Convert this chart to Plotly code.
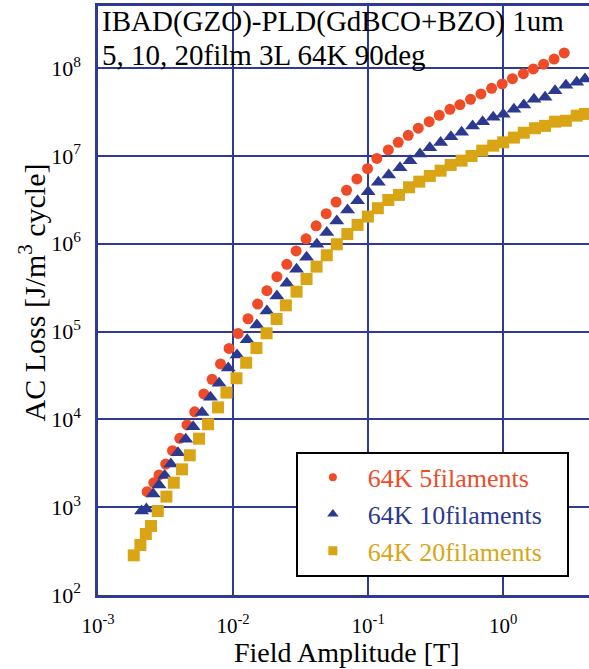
import plotly.graph_objects as go

# ---- data ----
x_5fil = [2.31e-3, 2.59e-3, 2.83e-3, 3.17e-3, 3.56e-3, 4.03e-3, 4.56e-3, 5.20e-3, 6.07e-3, 6.99e-3,
          8.07e-3, 9.34e-3, 1.09e-2, 1.29e-2, 1.52e-2, 1.78e-2, 2.11e-2, 2.50e-2, 2.93e-2, 3.47e-2,
          4.12e-2, 4.89e-2, 5.79e-2, 6.92e-2, 8.25e-2, 9.90e-2, 0.116, 0.141, 0.167, 0.198,
          0.235, 0.283, 0.336, 0.403, 0.478, 0.573, 0.684, 0.821, 0.983, 1.17,
          1.41, 1.67, 1.99, 2.38, 2.83]
y_5fil = [1.50e3, 1.90e3, 2.33e3, 3.10e3, 4.40e3, 6.09e3, 8.64e3, 1.22e4, 1.95e4, 2.86e4,
          4.28e4, 6.42e4, 9.52e4, 1.40e5, 2.06e5, 2.92e5, 4.22e5, 5.84e5, 8.28e5, 1.14e6,
          1.60e6, 2.20e6, 2.99e6, 4.07e6, 5.47e6, 7.17e6, 9.37e6, 1.17e7, 1.43e7, 1.72e7,
          2.07e7, 2.46e7, 2.91e7, 3.40e7, 3.84e7, 4.42e7, 5.09e7, 5.90e7, 6.61e7, 7.59e7,
          8.66e7, 9.79e7, 1.11e8, 1.27e8, 1.49e8]

x_10fil = [2.10e-3, 2.28e-3, 2.56e-3, 2.83e-3, 3.12e-3, 3.46e-3, 3.91e-3, 4.46e-3, 5.06e-3, 5.89e-3,
           6.80e-3, 7.88e-3, 9.21e-3, 1.07e-2, 1.27e-2, 1.50e-2, 1.78e-2, 2.11e-2, 2.50e-2, 2.95e-2,
           3.50e-2, 4.17e-2, 4.94e-2, 5.86e-2, 7.04e-2, 8.35e-2, 0.100, 0.119, 0.142, 0.172,
           0.204, 0.242, 0.286, 0.344, 0.410, 0.492, 0.593, 0.704, 0.843, 1.00,
           1.20, 1.42, 1.69, 2.04, 2.42, 2.91, 3.50, 4.03]
y_10fil = [9.05e2, 9.54e2, 1.41e3, 1.79e3, 2.29e3, 3.10e3, 4.18e3, 5.93e3, 8.26e3, 1.20e4,
           1.79e4, 2.58e4, 3.85e4, 5.41e4, 8.08e4, 1.19e5, 1.72e5, 2.54e5, 3.55e5, 5.12e5,
           7.02e5, 9.87e5, 1.34e6, 1.82e6, 2.43e6, 3.10e6, 3.92e6, 5.02e6, 6.08e6, 7.36e6,
           8.84e6, 1.05e7, 1.24e7, 1.42e7, 1.66e7, 1.86e7, 2.20e7, 2.46e7, 2.76e7, 2.99e7,
           3.40e7, 3.81e7, 4.42e7, 4.66e7, 5.54e7, 6.39e7, 6.91e7, 7.53e7]

x_20fil = [1.84e-3, 2.06e-3, 2.26e-3, 2.47e-3, 2.77e-3, 3.21e-3, 3.64e-3, 4.19e-3, 4.78e-3, 5.60e-3,
           6.53e-3, 7.74e-3, 8.93e-3, 1.06e-2, 1.25e-2, 1.49e-2, 1.77e-2, 2.10e-2, 2.46e-2, 2.95e-2,
           3.50e-2, 4.15e-2, 4.94e-2, 5.86e-2, 7.01e-2, 8.35e-2, 9.95e-2, 0.118, 0.141, 0.169,
           0.201, 0.239, 0.286, 0.344, 0.408, 0.492, 0.583, 0.699, 0.843, 1.00,
           1.20, 1.42, 1.72, 2.04, 2.42, 2.91, 3.50, 4.03]
y_20fil = [2.83e2, 3.71e2, 4.95e2, 6.11e2, 9.05e2, 1.32e3, 1.90e3, 2.70e3, 3.90e3, 6.03e3,
           8.80e3, 1.37e4, 2.02e4, 2.94e4, 4.42e4, 6.50e4, 9.56e4, 1.39e5, 1.99e5, 2.85e5,
           3.97e5, 5.49e5, 7.40e5, 9.87e5, 1.29e6, 1.64e6, 2.04e6, 2.54e6, 3.15e6, 3.60e6,
           4.40e6, 5.10e6, 5.92e6, 6.80e6, 7.90e6, 8.84e6, 1.00e7, 1.15e7, 1.31e7, 1.43e7,
           1.62e7, 1.84e7, 2.07e7, 2.20e7, 2.46e7, 2.52e7, 2.88e7, 3.01e7]

series_names = ["64K 5filaments", "64K 10filaments", "64K 20filaments"]

x_tickvals = [1e-3, 1e-2, 1e-1, 1e0]
x_ticktext = ["10<sup>-3</sup>", "10<sup>-2</sup>", "10<sup>-1</sup>", "10<sup>0</sup>"]
y_tickvals = [1e2, 1e3, 1e4, 1e5, 1e6, 1e7, 1e8]
y_ticktext = ["10<sup>2</sup>", "10<sup>3</sup>", "10<sup>4</sup>", "10<sup>5</sup>",
              "10<sup>6</sup>", "10<sup>7</sup>", "10<sup>8</sup>"]

title_lines = ["IBAD(GZO)-PLD(GdBCO+BZO) 1um", "5, 10, 20film 3L 64K 90deg"]
x_title = "Field Amplitude [T]"
y_title = "AC Loss [J/m<sup>3</sup> cycle]"

# ---- styling ----
RED = "#EF4B27"
BLUE = "#2B3990"
GOLD = "#D9A514"
GRID = "#2E3A94"
FONT = "Liberation Serif, Times New Roman, serif"

fig = go.Figure()

series = [
    (x_5fil, y_5fil, RED, "circle", 11, 8),
    (x_10fil, y_10fil, BLUE, "triangle-up", 13, 10),
    (x_20fil, y_20fil, GOLD, "square", 12, 9),
]

for (xs, ys, col, sym, sz, _), name in zip(series, series_names):
    fig.add_trace(go.Scatter(x=xs, y=ys, mode="markers", name=name, showlegend=False,
                             marker=dict(color=col, symbol=sym, size=sz, line=dict(width=0))))

for (xs, ys, col, sym, sz, lsz), name in zip(series, series_names):
    fig.add_trace(go.Scatter(x=[None], y=[None], mode="markers",
                             name=f"<span style='color:{col}'>{name}</span>&nbsp;&nbsp;&nbsp;",
                             marker=dict(color=col, symbol=sym, size=lsz, line=dict(width=0))))

fig.update_layout(
    width=589, height=669,
    margin=dict(l=98, r=0, t=6, b=74),
    paper_bgcolor="white", plot_bgcolor="white",
    font=dict(family=FONT, size=20, color="black"),
    showlegend=True,
    legend=dict(x=0.403, y=0.243, xanchor="left", yanchor="top",
                bgcolor="white", bordercolor="black", borderwidth=2,
                font=dict(family=FONT, size=26),
                tracegroupgap=0, itemwidth=60),
    xaxis=dict(type="log", range=[-3, 0.635],
               tickvals=x_tickvals, ticktext=x_ticktext,
               showgrid=True, gridcolor=GRID, gridwidth=2,
               showline=True, linecolor=GRID, linewidth=2.5, mirror=True,
               ticks="", ticklabelstandoff=10, zeroline=False,
               tickfont=dict(family=FONT, size=21)),
    yaxis=dict(type="log", range=[2, 8.708],
               tickvals=y_tickvals, ticktext=y_ticktext,
               showgrid=True, gridcolor=GRID, gridwidth=2,
               showline=True, linecolor=GRID, linewidth=2.5, mirror=False,
               ticks="", ticklabelstandoff=10, zeroline=False,
               tickfont=dict(family=FONT, size=22)),
)

# axis titles
fig.add_annotation(text=x_title, xref="paper", yref="paper", x=0.508, y=-0.0968,
                   xanchor="center", yanchor="middle", showarrow=False,
                   font=dict(family=FONT, size=28, color="black"))
fig.add_annotation(text=y_title, xref="paper", yref="paper", x=-0.134, y=0.514,
                   xanchor="center", yanchor="middle", showarrow=False, textangle=-90,
                   font=dict(family=FONT, size=30, color="black"))

# in-plot header text
for yy, line in zip([0.9745, 0.9168], title_lines):
    fig.add_annotation(text=line, xref="paper", yref="paper", x=0.005, y=yy,
                       xanchor="left", yanchor="middle", showarrow=False,
                       font=dict(family=FONT, size=29, color="black"))

fig.write_html("out.html")
